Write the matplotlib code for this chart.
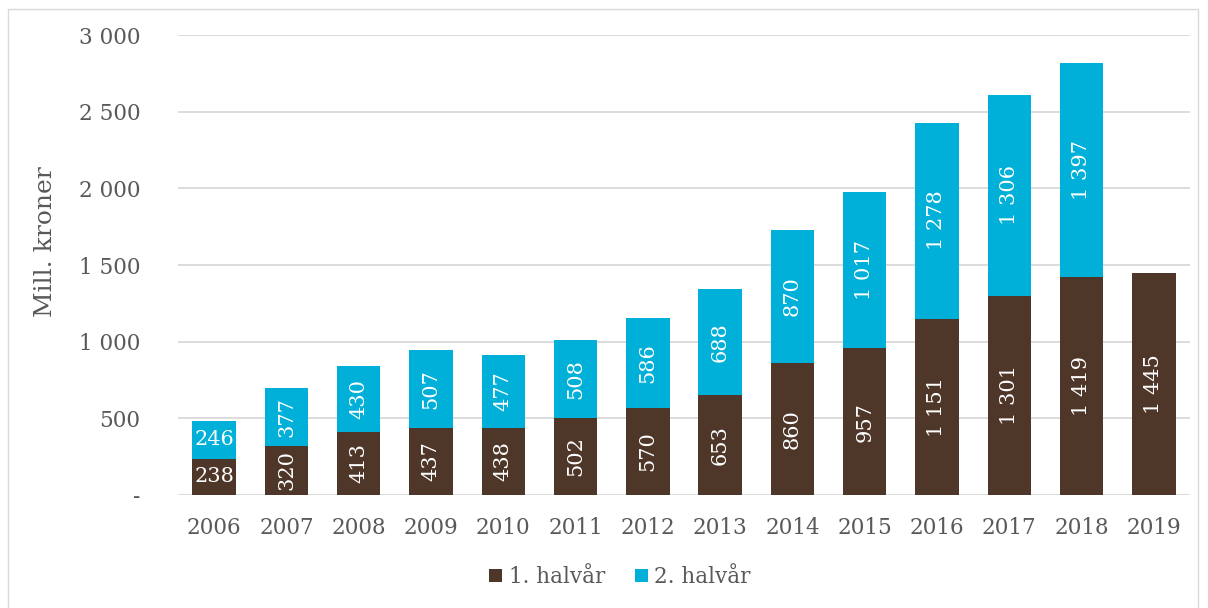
import numpy as np
import matplotlib.pyplot as plt
from matplotlib.patches import Rectangle

years = ['2006', '2007', '2008', '2009', '2010', '2011', '2012', '2013',
         '2014', '2015', '2016', '2017', '2018', '2019']
h1 = [238, 320, 413, 437, 438, 502, 570, 653, 860, 957, 1151, 1301, 1419, 1445]
h2 = [246, 377, 430, 507, 477, 508, 586, 688, 870, 1017, 1278, 1306, 1397, 0]

brown = '#4E3629'
blue = '#00B0D8'
grey = '#595959'

plt.rcParams['font.family'] = ['DejaVu Serif']


def fmt(v):
    return f'{v:,}'.replace(',', ' ')


fig = plt.figure(figsize=(12.08, 6.08), dpi=100)
ax = fig.add_axes([178 / 1208, 1 - 495 / 608, 1012 / 1208, 460 / 608])

x = np.arange(len(years))
w = 0.6
ax.bar(x, h1, w, color=brown, label='1. halvår', zorder=3)
ax.bar(x, h2, w, bottom=h1, color=blue, label='2. halvår', zorder=3)

for i in range(len(years)):
    rot = 0 if i == 0 else 90
    ax.text(x[i], h1[i] / 2, fmt(h1[i]), ha='center', va='center',
            color='white', fontsize=15, rotation=rot, zorder=4)
    if h2[i] > 0:
        ax.text(x[i], h1[i] + h2[i] / 2, fmt(h2[i]), ha='center', va='center',
                color='white', fontsize=15, rotation=rot, zorder=4)

ax.set_xlim(-0.5, len(years) - 0.5)
ax.set_ylim(0, 3000)
ax.set_yticks(range(0, 3001, 500))
ax.set_yticklabels(['-' if v == 0 else fmt(v) for v in range(0, 3001, 500)])
ax.set_xticks(x)
ax.set_xticklabels(years)
ax.tick_params(axis='both', length=0, labelsize=15.5, colors=grey)
ax.tick_params(axis='y', pad=27)
ax.tick_params(axis='x', pad=16)
ax.yaxis.grid(True, color='#D9D9D9', linewidth=1.3, zorder=0)
for s in ax.spines.values():
    s.set_visible(False)
ax.set_ylabel('Mill. kroner', fontsize=18, color=grey)
ax.yaxis.set_label_coords(-121 / 1012, 0.55)

fig.legend(loc='center', bbox_to_anchor=(620 / 1208, 1 - 577 / 608), ncol=2,
           frameon=False, fontsize=15.5, labelcolor=grey, handlelength=0.6,
           handleheight=0.6, handletextpad=0.3, columnspacing=1.4)

fig.patches.append(Rectangle((8 / 1208, -0.05), 1190 / 1208, 1 - 9 / 608 + 0.05,
                             transform=fig.transFigure, fill=False,
                             edgecolor='#D9D9D9', linewidth=1))

fig.savefig('out.png', dpi=100)
